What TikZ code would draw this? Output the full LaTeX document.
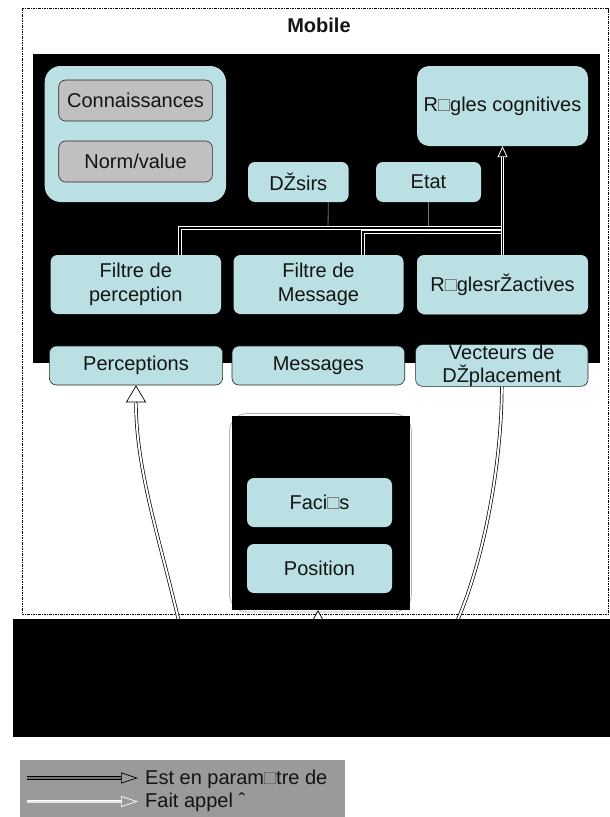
\documentclass[tikz,border=0pt]{standalone}
\usepackage{fontspec}
\setmainfont{Liberation Sans}
\usetikzlibrary{arrows.meta,calc}
\definecolor{cy}{RGB}{187,224,227}
\definecolor{gbox}{RGB}{192,192,192}
\definecolor{lgray}{RGB}{154,154,154}
\definecolor{txt}{RGB}{20,20,20}
\newcommand\fsz{\fontsize{20}{24}\selectfont}
\newcommand\miss{{\color{black!60}□}}
\tikzset{
  blk/.style={fill=black, draw=none, inner sep=0pt},
  cybox/.style={fill=cy, draw=none, rounded corners=7pt, inner sep=0pt, align=center, font=\fsz, text=txt},
  cyedge/.style={cybox, draw=black!85, line width=0.6pt},
  graybox/.style={fill=gbox, draw=black!85, line width=0.6pt, rounded corners=7pt, inner sep=0pt, font=\fsz, text=txt},
  wdbl/.style={draw=white, double=black, double distance=1.8pt, line width=0.8pt},
  bdbl/.style={draw=black, double=white, double distance=2pt, line width=0.7pt},
  stubline/.style={draw=black!55, line width=0.8pt},
  frame/.style={draw=black, line width=0.7pt, dash pattern=on 2.5pt off 1pt on 1pt off 1pt},
}
\begin{document}
\begin{tikzpicture}[x=1pt,y=-1pt]
\useasboundingbox (0,0) rectangle (610,817);
% outer dashed frame
\draw[frame] (22,8.5) rectangle (608.5,614);
\node[font=\fsz\bfseries, text=txt] (mobile) at (319,25) {Mobile};
% big black block
\node[blk, minimum width=567pt, minimum height=309pt] (mind) at (316.5,208.5) {};
\node[cybox, rounded corners=16pt, minimum width=181.3pt, minimum height=136pt] (grp) at (135.35,134) {};
\node[graybox, minimum width=153.7pt, minimum height=41pt] (conn) at (135.55,100.5) {Connaissances};
\node[graybox, minimum width=153.7pt, minimum height=41pt] (norm) at (135.55,161.5) {Norm/value};
\node[cybox, rounded corners=12pt, minimum width=171pt, minimum height=80pt] (rc) at (502.5,106) {R\miss gles cognitives};
\node[cybox, minimum width=100.6pt, minimum height=40pt] (des) at (298.3,182) {DŽsirs};
\node[cybox, minimum width=105pt, minimum height=40pt] (etat) at (428.5,182) {Etat};
\node[cybox, minimum width=170.4pt, minimum height=59pt] (fp) at (135.8,284.5) {Filtre de\\perception};
\node[cybox, minimum width=170pt, minimum height=59pt] (fm) at (318.5,284.5) {Filtre de\\Message};
\node[cybox, minimum width=171pt, minimum height=59pt] (rr) at (502.5,284.5) {R\miss glesrŽactives};
\draw[black!60, line width=0.8pt] (rr.south west) ++(6,0) -- ($(rr.south east)+(-6,0)$);
\node[cyedge, minimum width=173.2pt, minimum height=39pt] (perc) at (136,365.5) {Perceptions};
\node[cyedge, minimum width=172.7pt, minimum height=39pt] (msg) at (318.35,365.5) {Messages};
\node[cyedge, minimum width=172.4pt, minimum height=39pt] (vect) at (501.8,365.5) {Vecteurs de\\[-1pt]DŽplacement};
% connectors inside the black block
\coordinate (dstub) at (328,230);
\coordinate (estub) at (428.5,230);
\draw[stubline] ($(des.south)+(30,0)$) -- (dstub);
\draw[stubline] (etat.south) -- (estub);
\coordinate (rbase) at (502.5,157);
\coordinate (j1) at (502.5,228);
\coordinate (j2) at (502.5,232);
\draw[wdbl] ($(fm.north)+(44.5,0)$) |- (j2);
\draw[wdbl] ($(fp.north)+(44.2,0)$) |- (j1);
\draw[wdbl] (rr.north) -- (rbase);
\draw[draw=white, line width=0.8pt, -{Triangle[open, fill=black, length=11pt, width=10pt]}] (rbase) -- (rc.south);
% middle block
\draw[draw=black!30, line width=0.8pt, rounded corners=18pt] (229.5,413.5) rectangle (411.5,612);
\node[blk, minimum width=178.2pt, minimum height=194pt] (body) at (320.6,513) {};
\node[cybox, minimum width=145pt, minimum height=49pt] (fac) at (319.5,502.5) {Faci\miss s};
\node[cybox, minimum width=145pt, minimum height=49pt] (pos) at (319.5,568.5) {Position};
% curved connectors
\coordinate (lstart) at (180,626);
\coordinate (pbase) at (136,403);
\coordinate (rend) at (455,626);
\coordinate (mstart) at (318,624);
\draw[bdbl] (lstart) .. controls (160,540) and (136,470) .. (pbase);
\draw[black, line width=0.7pt, -{Triangle[open, fill=white, length=17pt, width=20pt]}] (pbase) -- (perc.south);
\draw[bdbl] (vect.south) .. controls (501.8,460) and (485,560) .. (rend);
\draw[black, line width=0.7pt, -{Triangle[open, fill=white, length=11pt, width=12pt]}] (mstart) -- (mstart |- body.south);
% bottom black block
\node[blk, minimum width=597pt, minimum height=118pt] (env) at (311.5,678) {};
% legend
\node[fill=lgray, draw=none, minimum width=325.5pt, minimum height=57pt, inner sep=0pt] (legend) at (182.25,788.5) {};
\coordinate (a1s) at (27,778);
\coordinate (a1e) at (121,778);
\coordinate (a1t) at (138,778);
\coordinate (a2s) at (27,801.5);
\coordinate (a2e) at (121,801.5);
\coordinate (a2t) at (138,801.5);
\draw[draw=black, double=black!55, double distance=2pt, line width=0.8pt] (a1s) -- (a1e);
\draw[black, line width=0.7pt, -{Triangle[open, length=17pt, width=11pt]}] (a1e) -- (a1t);
\draw[draw=white, double=white!75!lgray, double distance=2pt, line width=0.8pt] (a2s) -- (a2e);
\draw[white, line width=0.7pt, -{Triangle[open, length=17pt, width=11pt]}] (a2e) -- (a2t);
\node[anchor=west, inner sep=0pt, font=\fsz, text=txt] (l1) at (145,779) {Est en param\miss tre de};
\node[anchor=west, inner sep=0pt, font=\fsz, text=txt] (l2) at (145,802) {Fait appel ˆ};
\end{tikzpicture}
\end{document}
